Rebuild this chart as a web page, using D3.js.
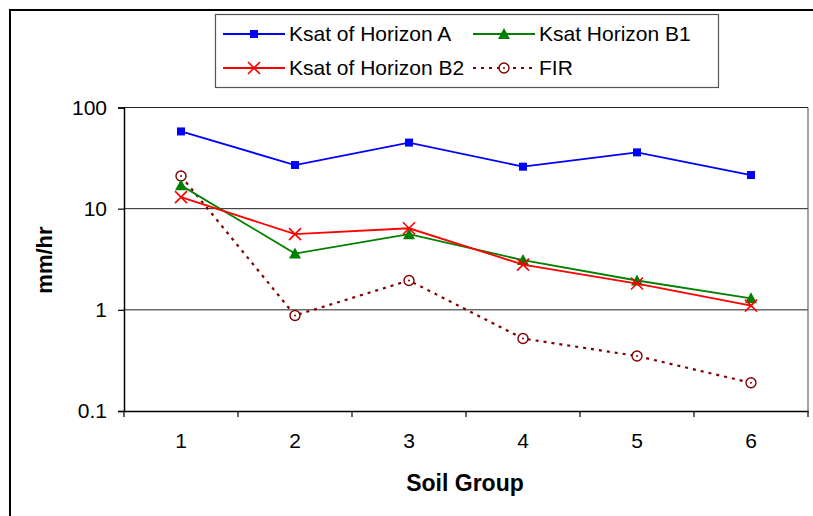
<!DOCTYPE html>
<html><head><meta charset="utf-8">
<script src="https://cdn.jsdelivr.net/npm/d3@7"></script>
<style>body{margin:0;background:#fff}svg{display:block;font-family:"Liberation Sans",Arial,sans-serif}</style>
</head><body><svg id="c" width="813" height="516"></svg>
<script>
const categories = [1, 2, 3, 4, 5, 6];
const horizonA  = [58, 27, 45, 26, 36, 21.5];
const horizonB1 = [17, 3.6, 5.6, 3.1, 1.95, 1.3];
const horizonB2 = [13, 5.6, 6.4, 2.8, 1.82, 1.1];
const fir       = [21, 0.88, 1.95, 0.52, 0.35, 0.19];
const yTicks = [0.1, 1, 10, 100];
const seriesNames = ["Ksat of Horizon A", "Ksat Horizon B1", "Ksat of Horizon B2", "FIR"];

const svg = d3.select("#c");
const L = 124, R = 808, T = 107.5, B = 411;

// outer frame
svg.append("rect").attr("x",10).attr("y",10).attr("width",820).attr("height",520)
  .attr("fill","none").attr("stroke","#000").attr("stroke-width",2);

const x = d3.scaleBand().domain(categories).range([L, R]);
const y = d3.scaleLog().domain([0.1, 100]).range([B, T]);

// gridlines
svg.append("g").selectAll("line").data([1,10]).join("line")
  .attr("x1",L).attr("x2",R).attr("y1",d=>y(d)).attr("y2",d=>y(d))
  .attr("stroke","#222").attr("stroke-width",1);
// plot border top & right
svg.append("line").attr("x1",L).attr("x2",R).attr("y1",y(100)).attr("y2",y(100)).attr("stroke","#222").attr("stroke-width",1.2);
svg.append("line").attr("x1",R).attr("x2",R).attr("y1",T).attr("y2",B).attr("stroke","#666").attr("stroke-width",1.2);

// y axis
const yAxis = d3.axisLeft(y).tickValues(yTicks).tickFormat(d=>String(d)).tickSize(6).tickPadding(11);
const gy = svg.append("g").attr("transform",`translate(${L},0)`).call(yAxis);
gy.select(".domain").attr("stroke","#000").attr("stroke-width",1.5);
gy.selectAll(".tick line").attr("stroke","#000").attr("stroke-width",1.2);
gy.selectAll("text").attr("font-size",21).attr("fill","#000").attr("font-family","Liberation Sans, Arial");

// x axis
const xAxis = d3.axisBottom(x).tickSize(0).tickPadding(22);
const gx = svg.append("g").attr("transform",`translate(0,${B})`).call(xAxis);
gx.select(".domain").attr("stroke","#000").attr("stroke-width",1.5);
gx.selectAll("text").attr("font-size",21).attr("fill","#000").attr("font-family","Liberation Sans, Arial");
// boundary ticks
const bounds = categories.map(c=>x(c)).concat([R]);
gx.selectAll("line.b").data(bounds).join("line").attr("class","b")
  .attr("x1",d=>d).attr("x2",d=>d).attr("y1",0).attr("y2",6).attr("stroke","#000").attr("stroke-width",1.2);

// axis titles
svg.append("text").attr("x",(L+R)/2 - 1).attr("y",491).attr("text-anchor","middle")
  .attr("font-size",23).attr("font-weight","bold").text("Soil Group");
svg.append("text").attr("transform","translate(52,260) rotate(-90)").attr("text-anchor","middle")
  .attr("font-size",22).attr("font-weight","bold").text("mm/hr");

const cx = d => x(d) + x.bandwidth()/2;
const line = d3.line().x((d,i)=>cx(categories[i])).y(d=>y(d));

const styles = [
  {data:horizonA, color:"#0000ff", dash:null, marker:"square"},
  {data:horizonB1, color:"#008000", dash:null, marker:"triangle"},
  {data:horizonB2, color:"#ff0000", dash:null, marker:"x"},
  {data:fir, color:"#800000", dash:"3,5", marker:"circle"}
];

function drawMarker(g, type, color, px, py){
  if(type==="square"){
    g.append("rect").attr("x",px-4).attr("y",py-4).attr("width",8).attr("height",8).attr("fill",color);
  } else if(type==="triangle"){
    g.append("path").attr("d",`M${px},${py-6}L${px+6},${py+5}L${px-6},${py+5}Z`).attr("fill",color);
  } else if(type==="x"){
    g.append("path").attr("d",`M${px-6},${py-6}L${px+6},${py+6}M${px+6},${py-6}L${px-6},${py+6}`)
      .attr("stroke",color).attr("stroke-width",1.6).attr("fill","none");
  } else {
    g.append("circle").attr("cx",px).attr("cy",py).attr("r",5).attr("fill","#fff").attr("stroke",color).attr("stroke-width",1.4);
    g.append("circle").attr("cx",px).attr("cy",py).attr("r",1).attr("fill",color);
  }
}

// draw order: FIR first (behind)
[3,0,1,2].forEach(k=>{
  const s = styles[k];
  svg.append("path").datum(s.data).attr("d",line).attr("fill","none")
    .attr("stroke",s.color).attr("stroke-width",s.dash?2.2:1.8)
    .attr("stroke-dasharray",s.dash);
  const g = svg.append("g");
  s.data.forEach((v,i)=>drawMarker(g, s.marker, s.color, cx(categories[i]), y(v)));
});

// legend
const lg = svg.append("g");
lg.append("rect").attr("x",215.5).attr("y",14.5).attr("width",503).attr("height",73)
  .attr("fill","#fff").attr("stroke","#555").attr("stroke-width",1.2);
const lpos = [[223,34],[473,34],[223,68],[473,68]];
styles.forEach((s,k)=>{
  const [lx,ly] = lpos[k];
  lg.append("line").attr("x1",lx).attr("x2",lx+62).attr("y1",ly).attr("y2",ly)
    .attr("stroke",s.color).attr("stroke-width",s.dash?2.2:1.8).attr("stroke-dasharray",s.dash);
  drawMarker(lg, s.marker, s.color, lx+31, ly);
  lg.append("text").attr("x",lx+66).attr("y",ly+7).attr("font-size",21).attr("fill","#000").text(seriesNames[k]);
});
</script></body></html>
